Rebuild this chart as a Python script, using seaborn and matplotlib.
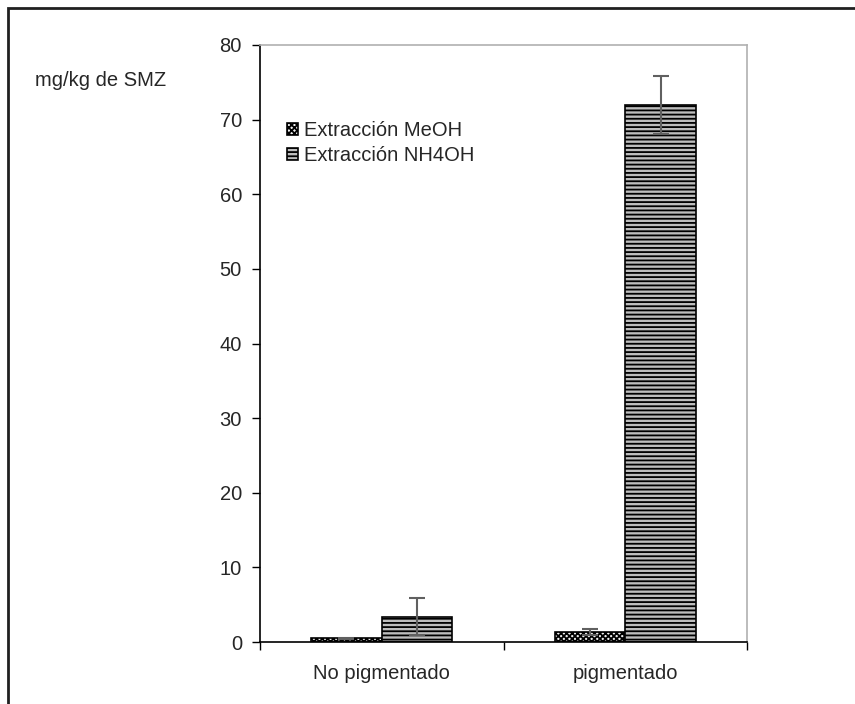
import numpy as np
import pandas as pd
import seaborn as sns
import matplotlib.pyplot as plt
from matplotlib.patches import Rectangle

sns.set_style('white')
plt.rcParams['font.family'] = ['Liberation Sans', 'DejaVu Sans']
plt.rcParams['hatch.linewidth'] = 1.3

# datos
categorias = ['No pigmentado', 'pigmentado']
series = ['Extracción MeOH', 'Extracción NH4OH']
meoh = [0.5, 1.4]
meoh_err = [0.1, 0.4]
nh4oh = [3.4, 72.0]
nh4oh_err = [2.5, 3.9]

df = pd.DataFrame({
    'grupo': categorias * 2,
    'serie': [series[0]] * 2 + [series[1]] * 2,
    'valor': meoh + nh4oh,
})

fs = 14.5

fig = plt.figure(figsize=(8.55, 7.04), dpi=100)
ax = fig.add_axes([260 / 855, 62 / 704, 487 / 855, 597 / 704])

sns.barplot(data=df, x='grupo', y='valor', hue='serie', order=categorias,
            hue_order=series, errorbar=None, width=0.58, ax=ax,
            palette=['#f0f0f0', '#bdbdbd'], edgecolor='black', linewidth=1.2)

# tramas
hatches = ['xxxxxx', '----']
for cont, h in zip(ax.containers, hatches):
    for bar in cont:
        bar.set_hatch(h)

# barras de error
for cont, vals, errs in zip(ax.containers, [meoh, nh4oh], [meoh_err, nh4oh_err]):
    xs = [b.get_x() + b.get_width() / 2 for b in cont]
    ax.errorbar(xs, vals, yerr=errs, fmt='none', ecolor='#606060',
                elinewidth=1.5, capsize=6, capthick=1.5)

ax.set_ylim(0, 80)
ax.set_xlim(-0.5, 1.5)
ax.set_yticks(np.arange(0, 81, 10))
ax.set_xticks([-0.5, 0.5, 1.5])
ax.set_xticklabels([])
ax.set_xticks([0, 1], minor=True)
ax.set_xticklabels(categorias, minor=True)
ax.tick_params(axis='x', which='major', direction='out', length=6, width=1, color='black', bottom=True)
ax.tick_params(axis='x', which='minor', length=0, pad=16, labelsize=fs)
ax.tick_params(axis='y', direction='out', length=6, width=1, color='black', left=True, labelsize=fs, pad=7)
ax.set_xlabel('')
ax.set_ylabel('')

for s in ['left', 'bottom']:
    ax.spines[s].set_color('black')
    ax.spines[s].set_linewidth(1.2)
for s in ['top', 'right']:
    ax.spines[s].set_color('#b0b0b0')
    ax.spines[s].set_linewidth(1.2)

leg = ax.legend(loc='upper left', bbox_to_anchor=(0.018, 0.903), frameon=False,
                fontsize=fs, handlelength=0.55, handleheight=0.55, handletextpad=0.3,
                labelspacing=0.3)
for hnd, h in zip(leg.legend_handles, hatches):
    hnd.set_hatch(h)

fig.text(35 / 855, 1 - 80 / 704, 'mg/kg de SMZ', fontsize=fs, va='center', ha='left')

# marco exterior
fig.patches.append(Rectangle((8 / 855, -0.2), 1.2, 1.2 - 8 / 704,
                             transform=fig.transFigure, fill=False,
                             edgecolor='#202020', linewidth=2))

fig.savefig('out.png', dpi=100)
